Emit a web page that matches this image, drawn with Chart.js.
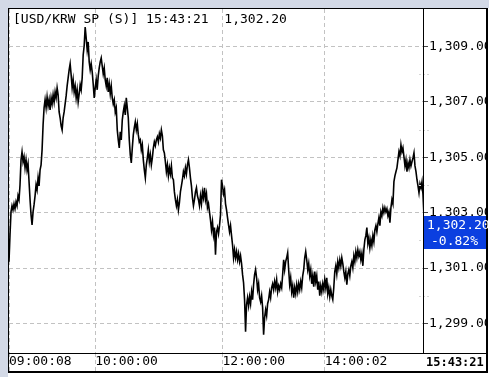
<!DOCTYPE html>
<html>
<head>
<meta charset="utf-8">
<script src="https://cdn.jsdelivr.net/npm/chart.js@4/dist/chart.umd.min.js"></script>
<style>
  html, body { margin: 0; padding: 0; background: #fff; }
  canvas { display: block; }
</style>
</head>
<body>
<canvas id="fxChart" width="489" height="377"></canvas>
<script>
// USD/KRW spot, one value per screen column
const prices = [
  1301.23, 1302.20, 1303.03, 1303.25, 1303.10, 1303.32, 1303.14, 1303.39, 1303.25, 1303.61,
  1303.47, 1304.01, 1304.91, 1305.20, 1304.84, 1305.02, 1304.62, 1304.91, 1304.55, 1304.77,
  1304.12, 1303.47, 1302.92, 1302.56, 1303.03, 1303.29, 1303.61, 1304.01, 1303.83, 1304.26,
  1303.97, 1304.55, 1304.73, 1305.27, 1306.17, 1306.79, 1307.08, 1306.79, 1307.18, 1306.86,
  1307.08, 1306.71, 1307.15, 1306.93, 1307.26, 1307.00, 1307.36, 1307.15, 1307.51, 1307.26,
  1306.64, 1306.43, 1306.14, 1305.99, 1306.43, 1306.64, 1306.93, 1307.22, 1307.58, 1307.87,
  1308.16, 1308.38, 1307.98, 1307.51, 1307.80, 1307.36, 1307.58, 1307.15, 1307.44, 1307.00,
  1307.29, 1307.62, 1307.44, 1307.87, 1308.70, 1309.03, 1309.71, 1309.31, 1308.88, 1309.17,
  1308.45, 1308.16, 1308.38, 1308.09, 1307.65, 1307.15, 1307.51, 1307.80, 1307.44, 1307.94,
  1308.23, 1308.45, 1308.59, 1308.30, 1308.01, 1308.23, 1307.80, 1307.58, 1307.87, 1307.36,
  1307.65, 1307.29, 1307.58, 1307.15, 1306.93, 1307.08, 1306.64, 1306.79, 1305.99, 1305.63,
  1305.34, 1305.92, 1305.63, 1306.35, 1306.64, 1306.86, 1306.53, 1307.15, 1306.79, 1306.43,
  1305.63, 1305.09, 1304.80, 1305.34, 1305.81, 1306.07, 1306.28, 1305.99, 1306.21, 1305.81,
  1305.56, 1305.63, 1305.27, 1305.45, 1304.91, 1304.55, 1304.26, 1304.73, 1304.98, 1305.27,
  1304.84, 1305.09, 1304.73, 1304.98, 1305.34, 1305.56, 1305.42, 1305.63, 1305.74, 1305.56,
  1305.85, 1305.70, 1305.99, 1305.78, 1305.27, 1305.16, 1304.84, 1304.48, 1304.73, 1304.33,
  1304.62, 1304.40, 1304.69, 1304.26, 1304.19, 1303.75, 1303.47, 1303.25, 1303.47, 1303.10,
  1303.36, 1303.75, 1303.97, 1304.19, 1304.48, 1304.33, 1304.62, 1304.40, 1304.73, 1304.91,
  1304.62, 1304.26, 1303.97, 1303.54, 1303.25, 1303.47, 1303.75, 1303.90, 1303.61, 1303.47,
  1303.25, 1303.61, 1303.32, 1303.75, 1303.54, 1303.90, 1303.47, 1303.68, 1303.18, 1303.32,
  1303.03, 1302.74, 1302.38, 1302.67, 1302.20, 1302.46, 1301.48, 1302.31, 1302.46, 1302.24,
  1302.53, 1302.92, 1304.19, 1303.97, 1303.68, 1303.83, 1303.32, 1303.10, 1302.82, 1302.56,
  1302.31, 1302.53, 1302.17, 1301.84, 1301.37, 1301.66, 1301.37, 1301.59, 1301.30, 1301.52,
  1301.23, 1301.44, 1301.16, 1300.76, 1300.47, 1299.86, 1298.70, 1299.68, 1299.93, 1299.64,
  1299.96, 1299.71, 1300.14, 1299.86, 1300.40, 1300.76, 1300.94, 1300.65, 1300.22, 1300.43,
  1299.93, 1299.78, 1300.00, 1299.57, 1298.59, 1299.21, 1299.49, 1299.28, 1299.71, 1299.86,
  1300.14, 1299.93, 1300.29, 1300.43, 1300.22, 1300.51, 1300.29, 1300.58, 1300.14, 1300.36,
  1300.22, 1300.43, 1300.29, 1300.76, 1301.30, 1300.94, 1301.23, 1301.37, 1301.55, 1300.94,
  1300.40, 1300.65, 1300.14, 1300.36, 1299.93, 1300.29, 1300.07, 1300.40, 1300.14, 1300.43,
  1300.22, 1300.51, 1300.29, 1300.72, 1300.94, 1301.37, 1301.59, 1301.30, 1300.94, 1301.16,
  1300.72, 1300.94, 1300.43, 1300.72, 1300.33, 1300.87, 1300.51, 1300.72, 1300.22, 1300.51,
  1300.00, 1300.36, 1300.14, 1300.43, 1300.22, 1300.58, 1300.29, 1300.65, 1300.07, 1300.29,
  1299.96, 1300.22, 1300.00, 1299.86, 1300.29, 1300.87, 1301.08, 1300.79, 1301.23, 1301.01,
  1301.30, 1301.08, 1301.37, 1301.16, 1300.87, 1300.65, 1300.87, 1300.40, 1300.79, 1300.94,
  1300.72, 1301.08, 1301.23, 1301.01, 1301.44, 1301.23, 1301.59, 1301.37, 1301.66, 1301.44,
  1301.59, 1301.30, 1301.52, 1301.08, 1301.66, 1302.02, 1302.17, 1302.46, 1301.88, 1302.09,
  1301.73, 1302.02, 1301.81, 1302.17, 1301.95, 1302.38, 1302.53, 1302.31, 1302.60, 1302.82,
  1302.53, 1303.03, 1302.89, 1303.18, 1303.00, 1303.18, 1303.03, 1303.14, 1302.89, 1303.03,
  1302.64, 1303.18, 1303.47, 1303.32, 1304.12, 1304.33, 1304.48, 1304.62, 1304.91, 1305.20,
  1305.05, 1305.45, 1305.20, 1305.34, 1305.02, 1304.69, 1304.91, 1304.48, 1304.80, 1304.62,
  1304.91, 1304.69, 1304.84, 1304.98, 1305.16, 1304.69, 1304.48, 1304.19, 1303.97, 1303.72,
  1304.04, 1303.90, 1304.12, 1303.65, 1302.85
];

// time axis labels and the sample index where each one sits
const timeLabels = ['09:00:08', '10:00:00', '12:00:00', '14:00:02'];
const timeIndex = [0, 86, 213, 315];

const priceTicks = [1299, 1301, 1303, 1305, 1307, 1309];
const minorTicks = [1300, 1302, 1304, 1306, 1308];

const title = '[USD/KRW SP (S)]';
const lastTime = '15:43:21';
const lastPrice = 1302.20;
const changePct = -0.82;

const MONO = "'DejaVu Sans Mono', monospace";
const GRID = '#c2c2c2';

const fmt = v => v.toLocaleString('en-US', { minimumFractionDigits: 2, maximumFractionDigits: 2 });

const frame = {
  id: 'frame',
  beforeDraw(chart) {
    const { ctx, width, height } = chart;
    ctx.save();
    ctx.fillStyle = '#fff';
    ctx.fillRect(0, 0, width, height);
    ctx.fillStyle = '#d3d9e6';
    ctx.fillRect(0, 0, width, 8);
    ctx.fillRect(0, 0, 8, height);
    ctx.restore();
  },
  afterDraw(chart) {
    const { ctx, chartArea: a } = chart;
    const y = chart.scales.y;
    ctx.save();

    // cover label overflow on the right
    ctx.fillStyle = '#fff';
    ctx.fillRect(488, 8, 1, 369);

    // faint minor ticks on the price axis
    ctx.strokeStyle = '#d6d6d6';
    ctx.lineWidth = 1;
    ctx.setLineDash([2, 2]);
    minorTicks.forEach(v => {
      const py = Math.round(y.getPixelForValue(v)) + 0.5;
      ctx.beginPath();
      ctx.moveTo(a.right - 5, py);
      ctx.lineTo(a.right + 6, py);
      ctx.stroke();
    });
    ctx.setLineDash([]);

    // frame lines
    ctx.strokeStyle = '#000';
    ctx.lineWidth = 1;
    ctx.beginPath();
    ctx.moveTo(8.5, 8); ctx.lineTo(8.5, 373);
    ctx.moveTo(8, 8.5); ctx.lineTo(488, 8.5);
    ctx.moveTo(a.right - 0.5, 8); ctx.lineTo(a.right - 0.5, a.bottom);
    ctx.moveTo(8, a.bottom + 0.5); ctx.lineTo(488, a.bottom + 0.5);
    ctx.stroke();
    ctx.lineWidth = 2;
    ctx.beginPath();
    ctx.moveTo(487, 8); ctx.lineTo(487, 373);
    ctx.moveTo(8, 372); ctx.lineTo(488, 372);
    ctx.stroke();

    // header text
    ctx.fillStyle = '#000';
    ctx.font = '13px ' + MONO;
    ctx.textBaseline = 'alphabetic';
    ctx.textAlign = 'left';
    ctx.fillText(title + ' ' + lastTime + '  ' + fmt(lastPrice), 13, 23);

    // current time in the axis strip
    ctx.font = 'bold 12px ' + MONO;
    ctx.textBaseline = 'middle';
    ctx.fillText(lastTime, a.right + 2, 363);

    // last price box
    ctx.fillStyle = '#0b3fe0';
    ctx.fillRect(a.right, 216, 487 - a.right - 1, 33);
    ctx.fillStyle = '#fff';
    ctx.font = '13px ' + MONO;
    ctx.fillText(fmt(lastPrice), a.right + 3, 226);
    ctx.fillText(changePct.toFixed(2) + '%', a.right + 7, 242);

    ctx.restore();
  }
};

Chart.defaults.font.family = MONO;
Chart.defaults.font.size = 13;
Chart.defaults.color = '#000';

new Chart(document.getElementById('fxChart'), {
  type: 'line',
  data: {
    datasets: [{
      data: prices.map((p, i) => ({ x: i, y: p })),
      borderColor: '#000',
      borderWidth: 1.6,
      pointRadius: 0,
      tension: 0,
      fill: false
    }]
  },
  options: {
    responsive: false,
    animation: false,
    devicePixelRatio: 1,
    layout: { padding: { left: 9, top: 9, right: 0, bottom: 0 } },
    plugins: { legend: { display: false }, tooltip: { enabled: false } },
    scales: {
      x: {
        type: 'linear',
        position: 'bottom',
        min: 0,
        max: prices.length - 1,
        afterBuildTicks: s => { s.ticks = timeIndex.map(v => ({ value: v })); },
        afterFit: s => { s.height = 24; },
        ticks: {
          callback: v => timeLabels[timeIndex.indexOf(v)] || '',
          align: 'start',
          padding: -17,
          maxRotation: 0,
          autoSkip: false
        },
        grid: { color: GRID, tickLength: 18, tickColor: GRID, tickBorderDash: [4, 3] },
        border: { display: false, dash: [4, 3] }
      },
      y: {
        type: 'linear',
        position: 'right',
        min: 1297.93,
        max: 1310.36,
        afterBuildTicks: s => { s.ticks = priceTicks.map(v => ({ value: v })); },
        afterFit: s => { s.width = 65; },
        ticks: { callback: v => fmt(v), padding: 1 },
        grid: { color: GRID, tickLength: 4, tickColor: '#444', tickBorderDash: [] },
        border: { display: false, dash: [4, 3] }
      }
    }
  },
  plugins: [frame]
});
</script>
</body>
</html>
